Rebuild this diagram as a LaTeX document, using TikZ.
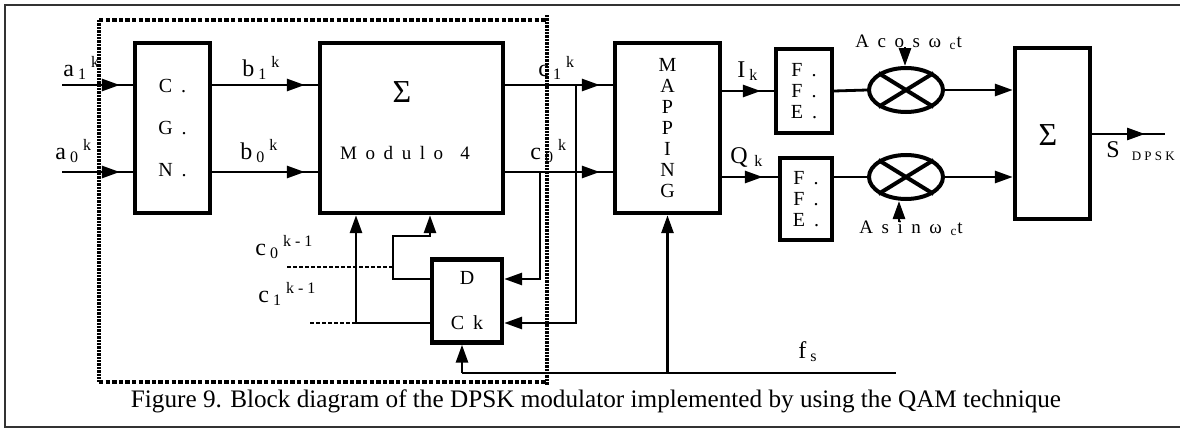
\documentclass[tikz,border=0pt]{standalone}
\usepackage{fontspec}
\setmainfont{Liberation Serif}
\newfontfamily\spacedfont{Liberation Serif}[WordSpace=1.8]
\usetikzlibrary{arrows.meta, shapes.geometric, decorations.markings}

\begin{document}
\begin{tikzpicture}[
    x=0.5pt, y=-0.5pt,
    blk/.style={
      rectangle, draw, line width=2.2pt, inner sep=0pt, align=center,
      font=\spacedfont\fontsize{10}{10.5}\selectfont
    },
    mult/.style={ellipse, draw, line width=2pt, minimum width=37pt, minimum height=22pt, inner sep=0pt},
    lbl/.style={inner sep=0pt, anchor=base west, font=\fontsize{12}{14}\selectfont},
    txt/.style={inner sep=0pt, font=\spacedfont\fontsize{9.5}{11}\selectfont},
    sig/.style={inner sep=0pt, font=\fontsize{16}{16}\selectfont},
    line/.style={line width=1.4pt},
    arr/.style={line, -{Triangle[length=9pt,width=6pt]}},
    midarr/.style={line, postaction=decorate,
      decoration={markings, mark=at position #1 with {\arrow{Triangle[length=9pt,width=6pt]}}}},
    midarr/.default=-6.5pt,
    dots/.style={line width=1.2pt, dash pattern=on 2pt off 1pt},
    enclv/.style={line width=2pt, dash pattern=on 1.2pt off 0.5pt},
    enclh/.style={line width=1.6pt, dash pattern=on 2.2pt off 1.1pt}
  ]
    \useasboundingbox (0,0) rectangle (1180,428);
    \draw[line width=0.8pt, black!80] (1180,5) -- (5,5) -- (5,427) -- (1180,427);

    % blocks
    \node[blk, minimum width=37.5pt, minimum height=85pt] (cgn) at (172.5,128) {C .\\[10.5pt]G .\\[10.5pt]N .};
    \node[blk, minimum width=91.5pt, minimum height=85pt] (mod) at (411.5,128) {};
    \node[sig] (modsig) at (402,92) {Σ};
    \node[txt] (modtxt) at (405,153) {M o d u l o \ 4};
    \node[blk, minimum width=35pt, minimum height=41.5pt] (dff) at (467,301) {D\\[12pt]C k};
    \node[blk, minimum width=52.5pt, minimum height=85pt] (map) at (667.5,128) {M\\A\\P\\P\\I\\N\\G};
    \node[blk, minimum width=28pt, minimum height=42pt] (ffe1) at (804,91) {F .\\F .\\E .};
    \node[blk, minimum width=26pt, minimum height=41pt] (ffe2) at (806,199) {F .\\F .\\E .};
    \node[mult] (m1) at (906,90) {};
    \node[mult] (m2) at (906,177) {};
    \draw[line width=2pt] (m1.north west) -- (m1.south east) (m1.south west) -- (m1.north east);
    \draw[line width=2pt] (m2.north west) -- (m2.south east) (m2.south west) -- (m2.north east);
    \node[blk, minimum width=37.5pt, minimum height=85.5pt] (sum) at (1052.5,133.5) {};
    \node[sig] (sumsig) at (1048,135) {Σ};

    % dotted enclosure
    \draw[enclv] (99,20) -- (99,382);
    \draw[enclv] (547,15) -- (547,385);
    \draw[enclh] (99,20) -- (547,20);
    \draw[enclh] (99,382) -- (547,382);

    % free ends
    \coordinate (ina1) at (62,85);
    \coordinate (ina0) at (62,172);
    \coordinate (tap0) at (540,172);
    \coordinate (tap1) at (576,85);
    \coordinate (clk) at (462,373);
    \coordinate (fs) at (896,373);
    \coordinate (ccos) at (905,47);
    \coordinate (csin) at (899,222);
    \coordinate (sout) at (1165,134);
    \coordinate (old0) at (287,267);
    \coordinate (old1) at (310,323);

    % forward path
    \draw[midarr] (ina1) -- (ina1 -| cgn.west);
    \draw[midarr] (ina0) -- (ina0 -| cgn.west);
    \draw[midarr] (cgn.east |- ina1) -- (mod.west |- ina1);
    \draw[midarr] (cgn.east |- ina0) -- (mod.west |- ina0);
    \draw[midarr] (mod.east |- ina1) -- (map.west |- ina1);
    \draw[midarr] (mod.east |- ina0) -- (map.west |- ina0);
    \draw[midarr] (map.east |- ffe1.west) -- (ffe1.west);
    \draw[midarr=-7.5pt] (map.east |- m2.west) -- (ffe2.west |- m2.west);
    \draw[line] (ffe1.east) -- (m1.west);
    \draw[line] (ffe2.east |- m2.west) -- (m2.west);
    \draw[arr] (m1.east) -- (sum.west |- m1.east);
    \draw[arr] (m2.east) -- (sum.west |- m2.east);
    \draw[midarr=-10pt] (sum.east |- sout) -- (sout);
    \draw[arr] (ccos) -- (ccos |- m1.north);
    \draw[arr] (csin) -- (csin |- m2.south);

    % feedback through D
    \draw[arr] (tap0) |- ([yshift=11pt]dff.east);
    \draw[arr] (tap1) |- ([yshift=-11pt]dff.east);
    \draw[arr] ([yshift=11pt]dff.west) -| (393,236) -| ([xshift=9.25pt]mod.south);
    \draw[arr] ([yshift=-11pt]dff.west) -| ([xshift=-27.75pt]mod.south);
    \draw[dots] (old0) -- (393,267);
    \draw[dots] (old1) -- (356,323);

    % clock
    \draw[line] (clk) -- (fs);
    \draw[arr] (clk) -- (clk |- dff.south);
    \draw[arr] (map.south |- fs) -- (map.south);

    % labels
    \node[lbl] (la1) at (63,76) {a\,\textsubscript{1}\,\textsuperscript{k}};
    \node[lbl] (la0) at (55,159) {a\,\textsubscript{0}\,\textsuperscript{k}};
    \node[lbl] (lb1) at (242,76) {b\,\textsubscript{1}\,\textsuperscript{k}};
    \node[lbl] (lb0) at (240,159) {b\,\textsubscript{0}\,\textsuperscript{k}};
    \node[lbl] (lc1) at (538,76) {c\,\textsubscript{1}\,\textsuperscript{k}};
    \node[lbl] (lc0) at (530,159) {c\,\textsubscript{0}\,\textsuperscript{k}};
    \node[lbl] (lo0) at (255,255) {c\,\textsubscript{0}\,\textsuperscript{k - 1}};
    \node[lbl] (lo1) at (258,302) {c\,\textsubscript{1}\,\textsuperscript{k - 1}};
    \node[lbl] (li) at (737,77) {I\,\textsubscript{k}};
    \node[lbl] (lq) at (730,163) {Q\;\textsubscript{k}};
    \node[lbl] (lfs) at (798,358) {f\,\textsubscript{s}};
    \node[lbl] (ls) at (1106,157) {S\enspace\textsubscript{\fontsize{6.5}{8}\selectfont D P S K}};
    \node[txt, anchor=base west] (lcos) at (855,47) {A c o s ω \textsubscript{c}t};
    \node[txt, anchor=base west] (lsin) at (859,233) {A s i n ω \textsubscript{c}t};

    \node[inner sep=0pt, anchor=base, font=\fontsize{12.6}{15}\selectfont] (cap) at (596,407)
      {Figure 9. Block diagram of the DPSK modulator implemented by using the QAM technique};
\end{tikzpicture}
\end{document}
